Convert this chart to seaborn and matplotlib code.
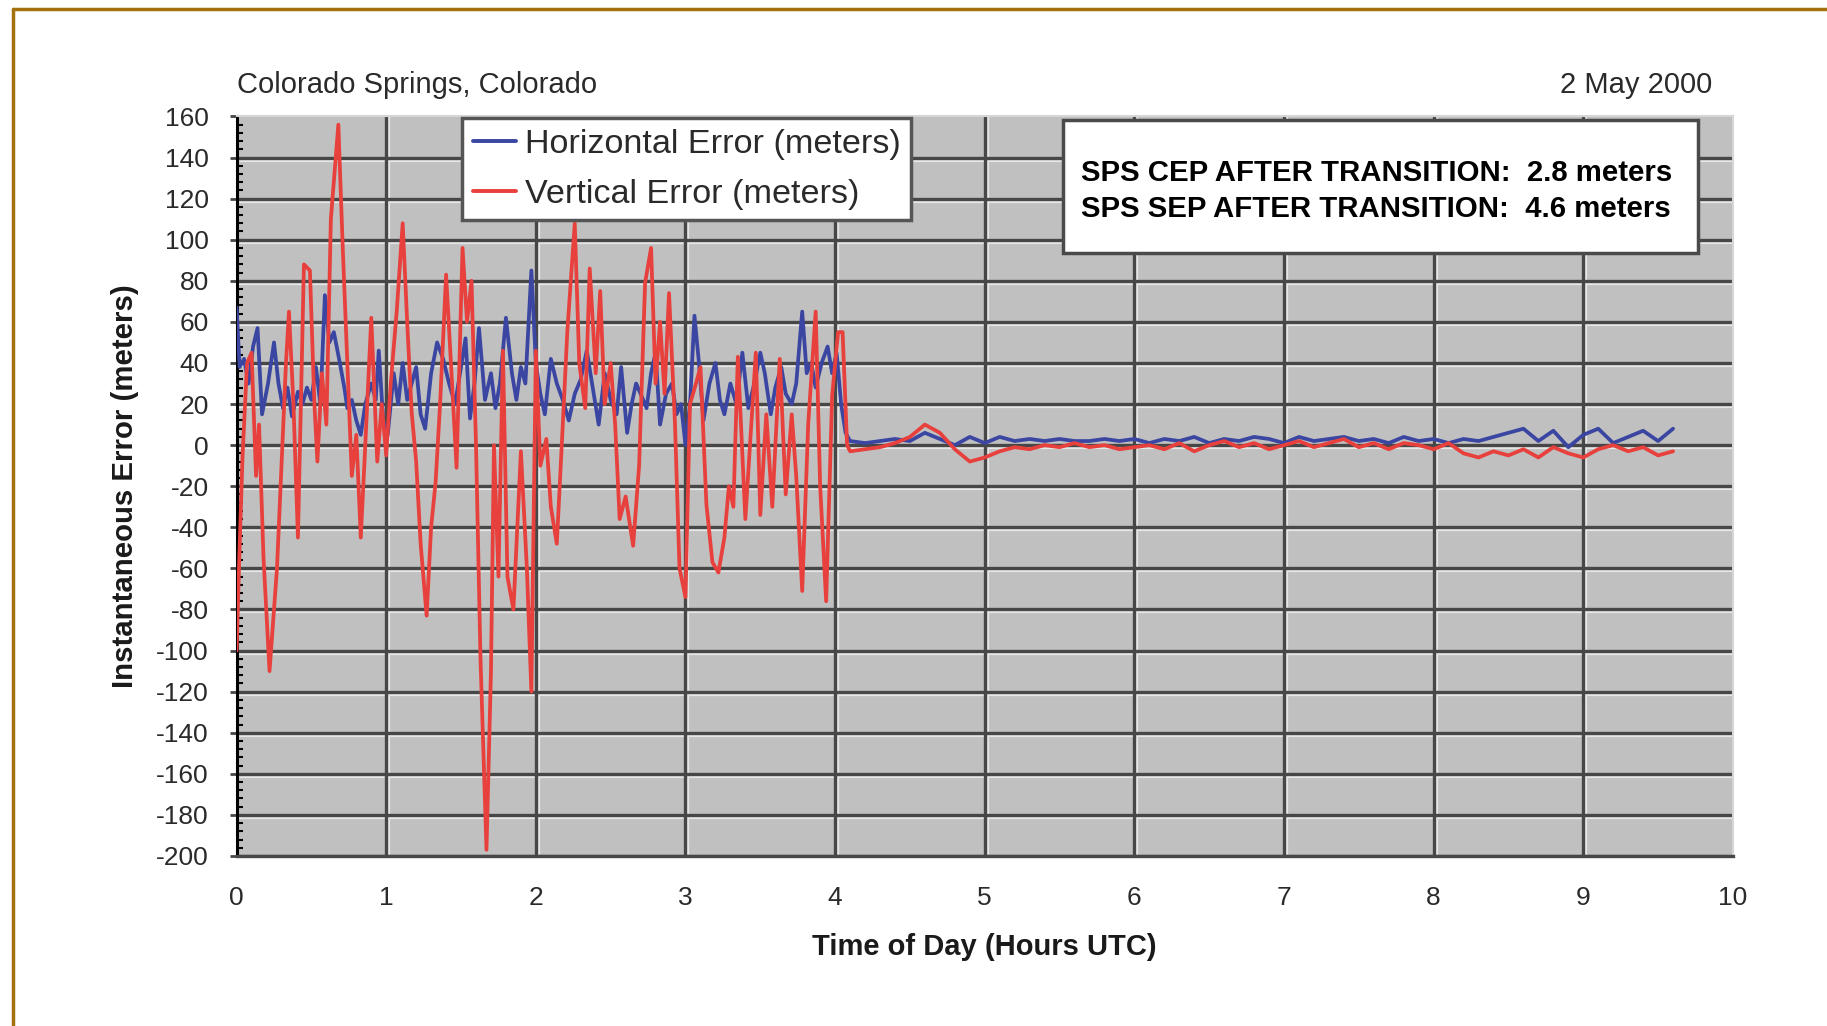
import numpy as np
import pandas as pd
import matplotlib
matplotlib.use("Agg")
import matplotlib.pyplot as plt
import matplotlib.transforms as mtransforms
from matplotlib.lines import Line2D
from matplotlib.patches import Rectangle
import seaborn as sns

# ---- data: GPS position error, hours UTC vs metres ----
horiz_hours_pre = [0.00, 0.02, 0.05, 0.08, 0.11, 0.14, 0.17, 0.21, 0.25, 0.28, 0.31, 0.34, 0.37, 0.41,
                   0.44, 0.47, 0.50, 0.53, 0.56, 0.59, 0.62, 0.65, 0.69, 0.72, 0.74, 0.77, 0.80, 0.83,
                   0.86, 0.90, 0.93, 0.95, 0.98, 1.01, 1.05, 1.08, 1.11, 1.14, 1.17, 1.20, 1.23, 1.26,
                   1.30, 1.34, 1.38, 1.42, 1.46, 1.50, 1.53, 1.56, 1.59, 1.62, 1.66, 1.70, 1.73, 1.76,
                   1.80, 1.84, 1.87, 1.90, 1.93, 1.97, 2.00, 2.03, 2.06, 2.10, 2.14, 2.18, 2.22, 2.26,
                   2.30, 2.34, 2.38, 2.42, 2.46, 2.50, 2.54, 2.57, 2.61, 2.64, 2.67, 2.70, 2.74, 2.77,
                   2.80, 2.83, 2.87, 2.91, 2.94, 2.97, 3.00, 3.03, 3.06, 3.09, 3.12, 3.16, 3.20, 3.23,
                   3.26, 3.30, 3.34, 3.38, 3.42, 3.46, 3.50, 3.53, 3.57, 3.60, 3.64, 3.67, 3.71, 3.74,
                   3.78, 3.81, 3.84, 3.87, 3.91, 3.95, 3.98, 4.01, 4.04, 4.07, 4.10]
horiz_err_pre = [67, 38, 42, 30, 48, 57, 15, 30, 50, 30, 18, 28, 14, 26,
                 20, 28, 22, 38, 20, 73, 50, 55, 40, 28, 18, 22, 12, 5,
                 20, 30, 22, 46, 12, 5, 35, 20, 40, 22, 30, 38, 15, 8,
                 35, 50, 42, 30, 20, 38, 52, 13, 30, 57, 22, 35, 18, 30,
                 62, 35, 22, 38, 30, 85, 40, 25, 15, 42, 30, 22, 12, 25,
                 32, 46, 28, 10, 35, 22, 15, 38, 6, 20, 30, 25, 18, 35,
                 45, 10, 25, 30, 15, 20, 0, 20, 63, 40, 12, 30, 40, 22,
                 15, 30, 20, 45, 18, 30, 45, 35, 15, 28, 38, 25, 20, 30,
                 65, 35, 40, 28, 40, 48, 35, 45, 20, 6, 2]

vert_hours_pre = [0.00, 0.02, 0.04, 0.07, 0.10, 0.13, 0.15, 0.18, 0.22, 0.25, 0.27, 0.30, 0.33, 0.35,
                  0.38, 0.41, 0.45, 0.49, 0.52, 0.54, 0.57, 0.60, 0.63, 0.68, 0.71, 0.74, 0.77, 0.80,
                  0.83, 0.86, 0.90, 0.94, 0.97, 1.00, 1.03, 1.07, 1.11, 1.14, 1.17, 1.20, 1.23, 1.27,
                  1.30, 1.33, 1.36, 1.40, 1.44, 1.47, 1.51, 1.54, 1.57, 1.60, 1.63, 1.67, 1.70, 1.72,
                  1.75, 1.78, 1.81, 1.85, 1.90, 1.94, 1.97, 2.00, 2.03, 2.07, 2.10, 2.14, 2.18, 2.21,
                  2.26, 2.29, 2.33, 2.36, 2.40, 2.43, 2.46, 2.50, 2.53, 2.56, 2.60, 2.65, 2.69, 2.73,
                  2.77, 2.80, 2.83, 2.86, 2.89, 2.93, 2.96, 3.00, 3.03, 3.07, 3.10, 3.14, 3.18, 3.22,
                  3.26, 3.29, 3.32, 3.35, 3.40, 3.44, 3.47, 3.50, 3.54, 3.58, 3.63, 3.67, 3.71, 3.74,
                  3.78, 3.82, 3.87, 3.90, 3.94, 3.98, 4.02, 4.05, 4.08, 4.10]
vert_err_pre = [-100, -50, -5, 40, 45, -15, 10, -55, -110, -80, -60, -10, 40, 65,
                20, -45, 88, 85, 20, -8, 35, 10, 110, 156, 95, 40, -15, 5,
                -45, 0, 62, -8, 20, -5, 30, 65, 108, 60, 16, -8, -48, -83,
                -40, -18, 20, 83, 30, -11, 96, 60, 80, 0, -104, -197, -110, 0,
                -64, 46, -64, -80, -3, -60, -120, 46, -10, 3, -30, -48, 10, 55,
                108, 40, 18, 86, 35, 75, 20, 40, 10, -36, -25, -49, -10, 79,
                96, 30, 60, 25, 74, 10, -60, -74, 20, 30, 38, -29, -57, -62,
                -45, -20, -30, 43, -36, 10, 45, -34, 15, -30, 42, -24, 15, -15,
                -71, 10, 65, -20, -76, 24, 55, 55, 0, -3]

hours_post = [4.2, 4.3, 4.4, 4.5, 4.6, 4.7, 4.8, 4.9, 5.0, 5.1, 5.2, 5.3, 5.4, 5.5,
              5.6, 5.7, 5.8, 5.9, 6.0, 6.1, 6.2, 6.3, 6.4, 6.5, 6.6, 6.7, 6.8, 6.9,
              7.0, 7.1, 7.2, 7.3, 7.4, 7.5, 7.6, 7.7, 7.8, 7.9, 8.0, 8.1, 8.2, 8.3,
              8.4, 8.5, 8.6, 8.7, 8.8, 8.9, 9.0, 9.1, 9.2, 9.3, 9.4, 9.5, 9.6]
horiz_err_post = [1, 2, 3, 2, 6, 3, 0, 4, 1, 4, 2, 3, 2, 3,
                  2, 2, 3, 2, 3, 1, 3, 2, 4, 1, 3, 2, 4, 3,
                  1, 4, 2, 3, 4, 2, 3, 1, 4, 2, 3, 1, 3, 2,
                  4, 6, 8, 2, 7, -1, 5, 8, 1, 4, 7, 2, 8]
vert_err_post = [-2, -1, 1, 4, 10, 6, -2, -8, -6, -3, -1, -2, 0, -1,
                 1, -1, 0, -2, -1, 0, -2, 1, -3, 0, 2, -1, 1, -2,
                 0, 2, -1, 1, 3, -1, 1, -2, 1, 0, -2, 1, -4, -6,
                 -3, -5, -2, -6, -1, -4, -6, -2, 0, -3, -1, -5, -3]

series_names = ["Horizontal Error (meters)", "Vertical Error (meters)"]
series_colors = ["#3a46a2", "#e8403c"]
x_ticks = list(range(0, 11))
y_ticks = list(range(-200, 161, 20))

place_label = "Colorado Springs, Colorado"
date_label = "2 May 2000"
note_lines = ["SPS CEP AFTER TRANSITION:  2.8 meters",
              "SPS SEP AFTER TRANSITION:  4.6 meters"]

# ---- long-form table for seaborn ----
frames = [
    pd.DataFrame({"hours": horiz_hours_pre + hours_post,
                  "error": horiz_err_pre + horiz_err_post,
                  "series": series_names[0]}),
    pd.DataFrame({"hours": vert_hours_pre + hours_post,
                  "error": vert_err_pre + vert_err_post,
                  "series": series_names[1]}),
]
df = pd.concat(frames, ignore_index=True)

sns.set_style("white")
plt.rcParams["font.family"] = ["Liberation Sans", "DejaVu Sans"]
plt.rcParams["axes.unicode_minus"] = False

fig = plt.figure(figsize=(18.27, 10.26), dpi=100)
ax = fig.add_axes([0.1295, 0.1657, 0.819, 0.7208])
ax.set_facecolor("#c0c0c0")
ax.set_xlim(0, 10)
ax.set_ylim(-200, 160)

# embossed grid: dark line with a light line beside it
grid_dark = "#474747"
grid_light = "#e6e6e6"
ytrans = ax.get_yaxis_transform()
ytrans_lo = mtransforms.offset_copy(ytrans, fig=fig, y=-3, units="dots")
xtrans = ax.get_xaxis_transform()
xtrans_rt = mtransforms.offset_copy(xtrans, fig=fig, x=3, units="dots")
for v in y_ticks[:-1]:
    ax.plot([0, 1], [v, v], transform=ytrans_lo, color=grid_light, lw=1.6, zorder=1)
    ax.plot([0, 1], [v, v], transform=ytrans, color=grid_dark, lw=2.4, zorder=1.1)
for h in x_ticks[1:-1]:
    ax.plot([h, h], [0, 1], transform=xtrans_rt, color=grid_light, lw=1.6, zorder=1)
    ax.plot([h, h], [0, 1], transform=xtrans, color=grid_dark, lw=2.4, zorder=1.1)

sns.lineplot(data=df, x="hours", y="error", hue="series", palette=series_colors,
             hue_order=series_names, estimator=None, sort=True, lw=2.7,
             legend=False, ax=ax, zorder=3)

# axes styling
for side in ["top", "right"]:
    ax.spines[side].set_color("#d6d6d6")
    ax.spines[side].set_linewidth(1.5)
ax.spines["bottom"].set_color(grid_dark)
ax.spines["bottom"].set_linewidth(2.4)
ax.spines["left"].set_color("black")
ax.spines["left"].set_linewidth(2.2)

ax.set_xticks(x_ticks)
ax.set_yticks(y_ticks)
ax.set_yticks(list(range(-200, 161, 4)), minor=True)
ax.tick_params(axis="x", which="major", length=0, pad=21.5, labelsize=19,
               labelcolor="#2a2a2a")
ax.tick_params(axis="y", which="major", direction="out", length=5, width=2,
               color=grid_dark, pad=15, labelsize=19, labelcolor="#2a2a2a", left=True)
ax.tick_params(axis="y", which="minor", direction="in", length=4, width=1.5,
               color="black", left=True)

ax.set_xlabel("Time of Day (Hours UTC)", fontsize=21, fontweight="bold",
              color="#1a1a1a", labelpad=17)
ax.set_ylabel("Instantaneous Error (meters)", fontsize=21.2, fontweight="bold",
              color="#1a1a1a", labelpad=12.5)

ax.text(0.0, 1.0426, place_label, transform=ax.transAxes, ha="left", va="center",
        fontsize=21, color="#2a2a2a")
ax.text(0.986, 1.0426, date_label, transform=ax.transAxes, ha="right", va="center",
        fontsize=21, color="#2a2a2a")

# legend
handles = [Line2D([], [], color=c, lw=2.8) for c in series_colors]
leg = ax.legend(handles, series_names, loc="upper left", bbox_to_anchor=(0.1507, 0.998),
                prop={"size": 24.6}, frameon=True, fancybox=False, framealpha=1.0,
                handlelength=1.26, handletextpad=0.27, borderpad=0.31, labelspacing=0.56,
                borderaxespad=0.0)
leg.get_frame().set_edgecolor("#555555")
leg.get_frame().set_linewidth(2.5)
leg.set_zorder(6)
for t in leg.get_texts():
    t.set_color("#2a2a2a")

# note box
ax.add_patch(Rectangle((0.5525, 0.8154), 0.4245, 0.1796, transform=ax.transAxes,
                       facecolor="white", edgecolor="#4a4a4a", lw=2.5, zorder=6))
for i, line in enumerate(note_lines):
    ax.text(0.5645, 0.9229 - i * 0.0486, line, transform=ax.transAxes, ha="left",
            va="center", fontsize=21.2, fontweight="bold", color="black", zorder=7)

# outer frame
frame_color = "#a3720f"
fig.add_artist(Line2D([13 / 1827, 13 / 1827], [0, 1 - 9 / 1026], color=frame_color, lw=2.5))
fig.add_artist(Line2D([13 / 1827, 1], [1 - 9 / 1026, 1 - 9 / 1026], color=frame_color, lw=2.5))

fig.savefig("out.png", dpi=100, facecolor="white")
